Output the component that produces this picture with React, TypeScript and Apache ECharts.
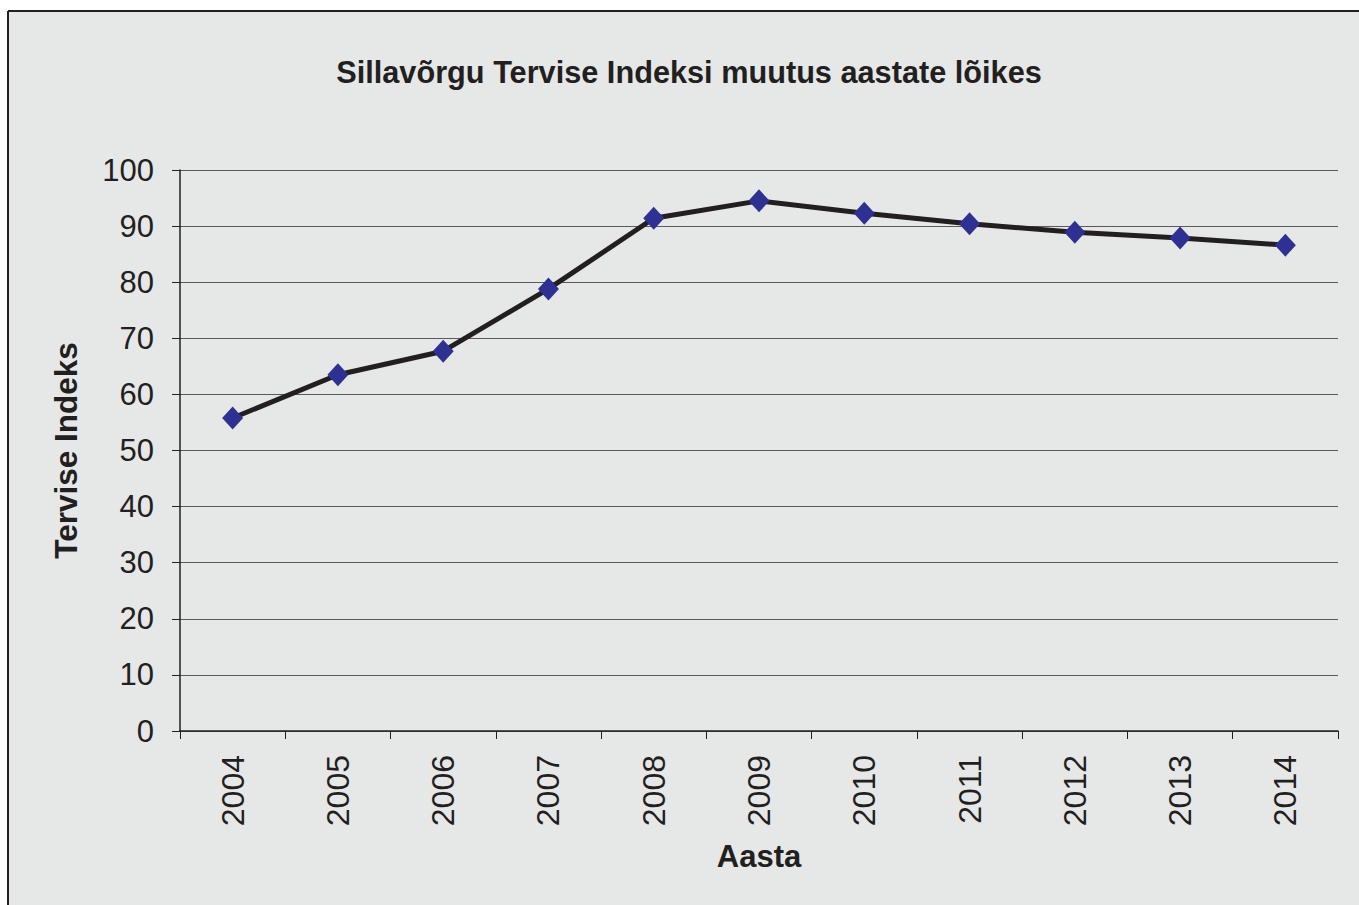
import React, { useEffect, useRef } from "react";
import * as echarts from "echarts";

const titleText = "Sillavõrgu Tervise Indeksi muutus aastate lõikes";
const years = ["2004", "2005", "2006", "2007", "2008", "2009", "2010", "2011", "2012", "2013", "2014"];
const indexValues = [55.8, 63.5, 67.7, 78.8, 91.4, 94.5, 92.3, 90.4, 88.9, 87.9, 86.6];
const xAxisName = "Aasta";
const yAxisName = "Tervise Indeks";

export default function App() {
  const ref = useRef<HTMLDivElement>(null);
  useEffect(() => {
    document.body.style.margin = "0";
    const chart = echarts.init(ref.current!, null, { renderer: "svg" });
    const font = "'Liberation Sans', Arial, sans-serif";
    chart.setOption({
      animation: false,
      backgroundColor: "#ffffff",
      graphic: [
        { type: "rect", shape: { x: 8, y: 11, width: 1360, height: 900 }, style: { fill: "#e6e8e8" }, z: -10 },
        { type: "line", shape: { x1: 8, y1: 11, x2: 1359, y2: 11 }, style: { stroke: "#231f20", lineWidth: 2 }, z: -5 },
        { type: "line", shape: { x1: 8, y1: 11, x2: 8, y2: 905 }, style: { stroke: "#231f20", lineWidth: 2 }, z: -5 },
      ],
      title: {
        text: titleText,
        left: 684,
        top: 52,
        textAlign: "center",
        textStyle: { fontFamily: font, fontSize: 30.7, fontWeight: "bold", color: "#231f20" },
      },
      grid: { left: 180, right: 21, top: 170, bottom: 174, containLabel: false },
      xAxis: {
        type: "category",
        data: years,
        boundaryGap: true,
        name: xAxisName,
        nameLocation: "middle",
        nameGap: 110,
        nameTextStyle: { fontFamily: font, fontSize: 31, fontWeight: "bold", color: "#231f20" },
        axisLine: { lineStyle: { color: "#231f20", width: 1.5 } },
        axisTick: { show: true, length: 8, alignWithLabel: false, lineStyle: { color: "#231f20" } },
        axisLabel: { rotate: 90, margin: 24, fontFamily: font, fontSize: 32, color: "#231f20", interval: 0 },
        splitLine: { show: false },
      },
      yAxis: {
        type: "value",
        min: 0,
        max: 100,
        interval: 10,
        name: yAxisName,
        nameLocation: "middle",
        nameGap: 98,
        nameTextStyle: { fontFamily: font, fontSize: 31.5, fontWeight: "bold", color: "#231f20" },
        axisLine: { show: true, lineStyle: { color: "#231f20", width: 1.5 } },
        axisTick: { show: true, length: 8, lineStyle: { color: "#231f20" } },
        axisLabel: { margin: 26, fontFamily: font, fontSize: 31, color: "#231f20" },
        splitLine: { show: true, lineStyle: { color: "#5a5a5a", width: 1.2 } },
      },
      series: [
        {
          type: "line",
          data: indexValues,
          symbol: "diamond",
          symbolSize: [21, 23],
          lineStyle: { color: "#231f20", width: 5 },
          itemStyle: { color: "#2e3192", borderWidth: 0 },
          z: 3,
        },
      ],
    });
    return () => chart.dispose();
  }, []);
  return <div ref={ref} style={{ width: 1359, height: 905 }} />;
}
